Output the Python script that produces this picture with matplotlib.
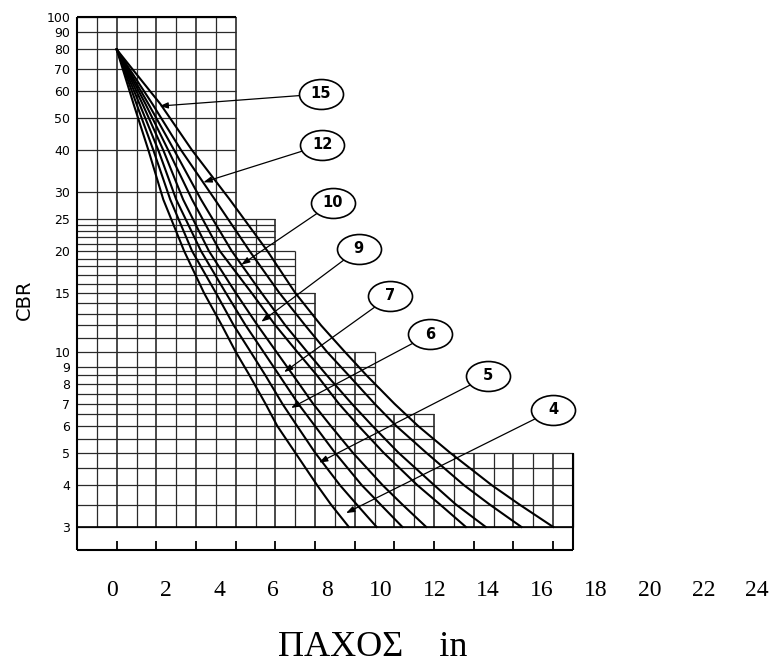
import matplotlib
matplotlib.use("Agg")
import matplotlib.pyplot as plt
from matplotlib.path import Path
from matplotlib.ticker import NullLocator

# ---------------- data ----------------
cbr_levels = [80, 55, 40, 28.5, 20, 15, 12, 10, 8.5, 7, 6, 5, 4, 3.5, 3]
curve_names = ["4", "5", "6", "7", "9", "10", "12", "15"]
thick_4 = [0, 0.85, 1.6, 2.35, 3.4, 4.4, 5.3, 6.0, 6.7, 7.5, 8.1, 9.0, 10.1, 10.8, 11.7]
thick_5 = [0, 1.0, 1.85, 2.7, 3.8, 5.0, 5.9, 6.75, 7.5, 8.35, 9.1, 10.0, 11.25, 12.1, 13.1]
thick_6 = [0, 1.15, 2.1, 3.0, 4.25, 5.5, 6.5, 7.4, 8.2, 9.15, 10.0, 11.0, 12.35, 13.3, 14.4]
thick_7 = [0, 1.3, 2.35, 3.35, 4.65, 6.0, 7.1, 8.05, 8.9, 9.9, 10.8, 11.9, 13.4, 14.4, 15.6]
thick_9 = [0, 1.45, 2.6, 3.8, 5.2, 6.8, 8.0, 9.1, 10.1, 11.2, 12.2, 13.45, 15.15, 16.3, 17.6]
thick_10 = [0, 1.6, 2.9, 4.25, 5.8, 7.3, 8.5, 9.6, 10.6, 11.85, 12.9, 14.2, 16.0, 17.1, 18.6]
thick_12 = [0, 1.8, 3.25, 4.95, 6.7, 8.2, 9.5, 10.6, 11.7, 13.0, 14.1, 15.6, 17.5, 18.8, 20.4]
thick_15 = [0, 2.2, 3.8, 5.7, 7.6, 9.0, 10.3, 11.5, 12.6, 14.0, 15.2, 16.8, 18.9, 20.3, 22.0]
curves = [thick_4, thick_5, thick_6, thick_7, thick_9, thick_10, thick_12, thick_15]

# label bubbles (centre) and arrow tips
label_x = [22.0, 18.7, 15.8, 13.8, 12.2, 10.9, 10.35, 10.3]
label_y = [6.71, 8.47, 11.3, 14.7, 20.3, 27.9, 41.5, 58.9]
tip_x = [11.56, 10.2, 8.79, 8.44, 7.29, 6.28, 4.37, 2.16]
tip_y = [3.3, 4.67, 6.8, 8.7, 12.3, 18.2, 32.1, 54.2]

# y tick labels
ytick_vals = [100, 90, 80, 70, 60, 50, 40, 30, 25, 20, 15, 10, 9, 8, 7, 6, 5, 4, 3]
# x tick labels (separate scale row)
xtick_vals = list(range(0, 25, 2))

# stepped graph-paper grid: horizontal levels and their right extent
h_groups = [
    ([100, 90, 80, 70, 60, 50, 40, 30], 6),
    ([25, 24, 23, 22, 21], 8),
    ([20, 19, 18, 17, 16], 9),
    ([15, 14, 13, 12, 11], 10),
    ([10, 9, 8.5, 8, 7.5, 7], 13),
    ([6.5, 6, 5.5], 16),
    ([5, 4.5, 4, 3.5, 3], 23),
]
v_lines = list(range(-1, 24))
v_tops = [100 if v <= 6 else 25 if v <= 8 else 20 if v <= 9 else 15 if v <= 10
          else 10 if v <= 13 else 6.5 if v <= 16 else 5 for v in v_lines]
bottom_ticks = list(range(0, 23, 2))

XMIN, XMAX = -2, 23
YMIN, YMAX = 2.56, 100

# ---------------- figure ----------------
W, H = 776, 669
fig = plt.figure(figsize=(W / 100, H / 100), dpi=100)
ax = fig.add_axes([77 / W, 1 - 550 / H, 496 / W, 533 / H])
ax.set_yscale("log")
ax.set_xlim(XMIN, XMAX)
ax.set_ylim(YMIN, YMAX)
for s in ax.spines.values():
    s.set_visible(False)

gcol = "#2a2a2a"
# horizontal grid
for levels, ext in h_groups:
    ax.hlines(levels, XMIN, ext, colors=gcol, lw=0.9, clip_on=False, zorder=1)
# vertical grid
for v, top in zip(v_lines, v_tops):
    ax.vlines(v, 3, top, colors=gcol, lw=0.9 if v % 2 else 1.2, clip_on=False, zorder=1)

# outline
bc = "black"
ax.vlines(XMIN, YMIN, YMAX, colors=bc, lw=1.5, clip_on=False, zorder=2)
ax.hlines(YMAX, XMIN, 6, colors=bc, lw=1.5, clip_on=False, zorder=2)
ax.hlines(YMIN, XMIN, XMAX, colors=bc, lw=1.5, clip_on=False, zorder=2)
ax.vlines(XMAX, YMIN, 5, colors=bc, lw=1.5, clip_on=False, zorder=2)
ax.hlines(3, XMIN, XMAX, colors=bc, lw=1.2, clip_on=False, zorder=2)
ax.vlines(bottom_ticks, 0, 0.017, transform=ax.get_xaxis_transform(),
          colors=bc, lw=1.3, zorder=2)

# design curves
for th in curves:
    ax.plot(th, cbr_levels, color="black", lw=1.5, zorder=3, solid_joinstyle="round")

# bubbles
circ = Path.unit_circle()
ell = Path(circ.vertices * [1.47, 1.0], circ.codes)
for name, lx, ly, tx, ty in zip(curve_names, label_x, label_y, tip_x, tip_y):
    ax.annotate("", xy=(tx, ty), xytext=(lx, ly),
                arrowprops=dict(arrowstyle="-|>,head_length=0.5,head_width=0.18",
                                color="black", lw=0.9, shrinkA=0, shrinkB=0,
                                mutation_scale=10),
                zorder=4, annotation_clip=False)
ax.scatter(label_x, label_y, marker=ell, s=1005, facecolor="white",
           edgecolor="black", linewidths=1.2, zorder=5, clip_on=False)
for name, lx, ly in zip(curve_names, label_x, label_y):
    ax.text(lx, ly, name, ha="center", va="center", fontsize=10.5,
            fontweight="bold", family="DejaVu Sans", zorder=6)

# axis ticks/labels
ax.set_xticks([])
ax.yaxis.set_minor_locator(NullLocator())
ax.set_yticks(ytick_vals)
ax.set_yticklabels([str(v) for v in ytick_vals])
ax.tick_params(axis="y", length=0, pad=5, labelsize=9)
ax.set_ylabel("CBR", fontsize=14, family="DejaVu Sans")
ax.yaxis.set_label_coords((34 - 77) / 496, (550 - 300) / 533)

# bottom numeric scale (offset row as in the reference)
ax2 = fig.add_axes([112 / W, 1 - 577 / H, 645 / W, 0.0001])
ax2.set_xlim(0, 24)
for s in ax2.spines.values():
    s.set_visible(False)
ax2.set_yticks([])
ax2.set_xticks(xtick_vals)
ax2.set_xticklabels([str(v) for v in xtick_vals], family="Liberation Serif", fontsize=17)
ax2.tick_params(axis="x", length=0, pad=2)
ax2.set_xlabel("ΠΑΧΟΣ    in", family="Liberation Serif", fontsize=26)
ax2.xaxis.label.set_va("center")
ax2.xaxis.set_label_coords(373 / W, 1 - 648 / H, transform=fig.transFigure)

fig.savefig("out.png", dpi=100)
